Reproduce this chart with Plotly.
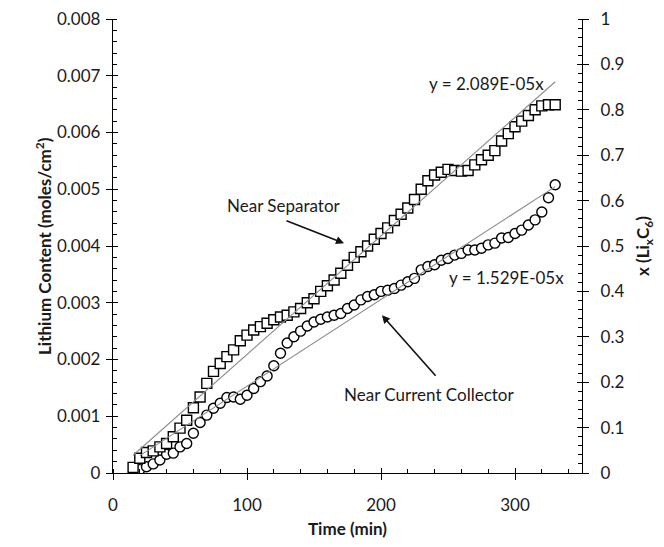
import plotly.graph_objects as go

# ---------------- data ----------------
time_sep = [15, 20, 25, 30, 35, 40, 45, 50, 55, 60, 65, 70, 75, 80, 85, 90, 95, 100,
            105, 110, 115, 120, 125, 130, 135, 140, 145, 150, 155, 160, 165, 170, 175,
            180, 185, 190, 195, 200, 205, 210, 215, 220, 225, 230, 235, 240, 245, 250,
            255, 260, 265, 270, 275, 280, 285, 290, 295, 300, 305, 310, 315, 320, 325, 330]
li_sep = [0.00010, 0.00026, 0.00036, 0.00039, 0.00046, 0.00052, 0.00064, 0.00079, 0.00093,
          0.00115, 0.00134, 0.00158, 0.00179, 0.00193, 0.00205, 0.00217, 0.00233, 0.00243,
          0.00252, 0.00258, 0.00264, 0.00270, 0.00275, 0.00278, 0.00284, 0.00290, 0.00300,
          0.00307, 0.00320, 0.00330, 0.00340, 0.00352, 0.00366, 0.00380, 0.00390, 0.00400,
          0.00412, 0.00422, 0.00432, 0.00445, 0.00456, 0.00467, 0.00482, 0.00500, 0.00515,
          0.00525, 0.00530, 0.00535, 0.00533, 0.00532, 0.00533, 0.00543, 0.00552, 0.00560,
          0.00568, 0.00585, 0.00598, 0.00610, 0.00620, 0.00630, 0.00640, 0.00647, 0.00649,
          0.00649]

time_cc = [20, 25, 30, 35, 40, 45, 50, 55, 60, 65, 70, 75, 80, 85, 90, 95, 100, 105, 110,
           115, 120, 125, 130, 135, 140, 145, 150, 155, 160, 165, 170, 175, 180, 185, 190,
           195, 200, 205, 210, 215, 220, 225, 230, 235, 240, 245, 250, 255, 260, 265, 270,
           275, 280, 285, 290, 295, 300, 305, 310, 315, 320, 325, 330]
li_cc = [0.00006, 0.00011, 0.00016, 0.00023, 0.00033, 0.00035, 0.00046, 0.00052, 0.00070,
         0.00089, 0.00102, 0.00114, 0.00123, 0.00133, 0.00134, 0.00130, 0.00137, 0.00149,
         0.00161, 0.00171, 0.00189, 0.00211, 0.00229, 0.00240, 0.00250, 0.00259, 0.00266,
         0.00271, 0.00275, 0.00278, 0.00281, 0.00290, 0.00296, 0.00305, 0.00311, 0.00314,
         0.00320, 0.00322, 0.00325, 0.00331, 0.00337, 0.00343, 0.00358, 0.00364, 0.00367,
         0.00375, 0.00378, 0.00384, 0.00387, 0.00393, 0.00393, 0.00396, 0.00402, 0.00405,
         0.00414, 0.00415, 0.00422, 0.00428, 0.00437, 0.00446, 0.00460, 0.00485, 0.00508]

slope_sep = 2.089e-05
slope_cc = 1.529e-05

x_ticks = [0, 100, 200, 300]
y_left_ticks = [0, 0.001, 0.002, 0.003, 0.004, 0.005, 0.006, 0.007, 0.008]
y_left_labels = ["0", "0.001", "0.002", "0.003", "0.004", "0.005", "0.006", "0.007", "0.008"]
y_right_ticks = [0, 0.1, 0.2, 0.3, 0.4, 0.5, 0.6, 0.7, 0.8, 0.9, 1.0]
y_right_labels = ["0", "0.1", "0.2", "0.3", "0.4", "0.5", "0.6", "0.7", "0.8", "0.9", "1"]

# ---------------- figure ----------------
FONT = "Lato"
TXT = "#1a1a1a"
fs = 17

fig = go.Figure()

fig.add_trace(go.Scatter(x=time_cc, y=li_cc, mode="markers", name="Near Current Collector",
                         marker=dict(symbol="circle", size=10, color="white",
                                     line=dict(color="black", width=1.4))))
fig.add_trace(go.Scatter(x=time_sep, y=li_sep, mode="markers", name="Near Separator",
                         marker=dict(symbol="square", size=10, color="white",
                                     line=dict(color="black", width=1.4))))

# linear trendlines through origin (y = slope * x), over data span
for tt, s in ((time_sep, slope_sep), (time_cc, slope_cc)):
    xs = [tt[0], tt[-1]]
    fig.add_trace(go.Scatter(x=xs, y=[s * v for v in xs], mode="lines",
                             line=dict(color="#8c8c8c", width=1.1), hoverinfo="skip"))

# dummy traces so the overlay axes exist
fig.add_trace(go.Scatter(x=[None], y=[None], xaxis="x", yaxis="y2", showlegend=False))
fig.add_trace(go.Scatter(x=[None], y=[None], xaxis="x2", yaxis="y3", showlegend=False))
fig.add_trace(go.Scatter(x=[None], y=[None], xaxis="x", yaxis="y4", showlegend=False))

axis_common = dict(showgrid=False, zeroline=False, color="black", automargin=False,
                   ticklabeloverflow="allow",
                   tickfont=dict(family=FONT, size=fs, color=TXT))
overlay_common = dict(showticklabels=False, showline=False, showgrid=False,
                      zeroline=False, automargin=False, tickcolor="black", tickwidth=1.3)

# the page body adds an 8px offset, so the figure is 8px smaller and margins shifted
fig.update_layout(
    width=656, height=539,
    margin=dict(l=105, r=82, t=11, b=74, autoexpand=False),
    paper_bgcolor="white", plot_bgcolor="white",
    showlegend=False,
    font=dict(family=FONT, size=fs, color=TXT),
    xaxis=dict(range=[0, 350], tickmode="array", tickvals=x_ticks,
               ticks="outside", ticklen=6, tickwidth=1.3, tickcolor="black",
               showline=True, linecolor="black", linewidth=1.3,
               ticklabelstandoff=10,
               minor=dict(dtick=20, tick0=0, ticks="inside", ticklen=4, tickwidth=1.1,
                          tickcolor="black"),
               **axis_common),
    xaxis2=dict(range=[0, 350], overlaying="x", anchor="y", side="bottom",
                tickmode="array", tickvals=x_ticks, ticks="inside", ticklen=5,
                **overlay_common),
    yaxis=dict(range=[0, 0.008], tickmode="array", tickvals=y_left_ticks,
               ticktext=y_left_labels,
               ticks="outside", ticklen=6, tickwidth=1.3, tickcolor="black",
               showline=True, linecolor="black", linewidth=1.3,
               ticklabelstandoff=2,
               minor=dict(dtick=0.0002, tick0=0, ticks="inside", ticklen=4, tickwidth=1.1,
                          tickcolor="black"),
               **axis_common),
    yaxis3=dict(range=[0, 0.008], overlaying="y", anchor="x", side="left",
                tickmode="array", tickvals=y_left_ticks, ticks="inside", ticklen=5,
                **overlay_common),
    yaxis2=dict(range=[0, 1], overlaying="y", anchor="x", side="right",
                tickmode="array", tickvals=y_right_ticks, ticktext=y_right_labels,
                ticks="outside", ticklen=6, tickwidth=1.3, tickcolor="black",
                showline=True, linecolor="black", linewidth=1.3,
                ticklabelstandoff=8,
                minor=dict(dtick=0.02, tick0=0, ticks="inside", ticklen=4, tickwidth=1.1,
                           tickcolor="black"),
                **axis_common),
    yaxis4=dict(range=[0, 1], overlaying="y", anchor="x", side="right",
                tickmode="array", tickvals=y_right_ticks, ticks="inside", ticklen=5,
                **overlay_common),
)

ann_font = dict(family=FONT, size=fs, color=TXT)
title_font = dict(family=FONT, size=fs, color=TXT)

annotations = [
    # axis titles
    dict(text="<b>Time (min)</b>", xref="paper", yref="paper", x=0.5, y=0,
         yshift=-55, showarrow=False, font=title_font, yanchor="middle"),
    dict(text="<b>Lithium Content (moles/cm<sup>2</sup>)</b>", xref="paper", yref="paper",
         x=0, y=0.5, xshift=-70, textangle=-90, showarrow=False, font=title_font,
         xanchor="center", yanchor="middle"),
    dict(text="<b>x (Li<sub>x</sub>C<sub>6</sub>)</b>", xref="paper", yref="paper",
         x=1, y=0.5, xshift=62, textangle=-90, showarrow=False, font=title_font,
         xanchor="center", yanchor="middle"),
    # trendline equations
    dict(text="y = 2.089E-05x", x=279, y=0.00687, showarrow=False, font=ann_font),
    dict(text="y = 1.529E-05x", x=294, y=0.00345, showarrow=False, font=ann_font),
    # labels
    dict(text="Near Separator", x=127.6, y=0.00472, showarrow=False, font=ann_font),
    dict(text="Near Current Collector", x=236, y=0.00139, showarrow=False, font=ann_font),
    # arrows
    dict(text="", x=172.4, y=0.00405, ax=-59, ay=-23, axref="pixel", ayref="pixel",
         showarrow=True, arrowhead=2, arrowsize=1, arrowwidth=1.6, arrowcolor="#111"),
    dict(text="", x=200.7, y=0.00278, ax=55, ay=62, axref="pixel", ayref="pixel",
         showarrow=True, arrowhead=2, arrowsize=1, arrowwidth=1.6, arrowcolor="#111"),
]
fig.update_layout(annotations=annotations)

fig.write_html("out.html")
